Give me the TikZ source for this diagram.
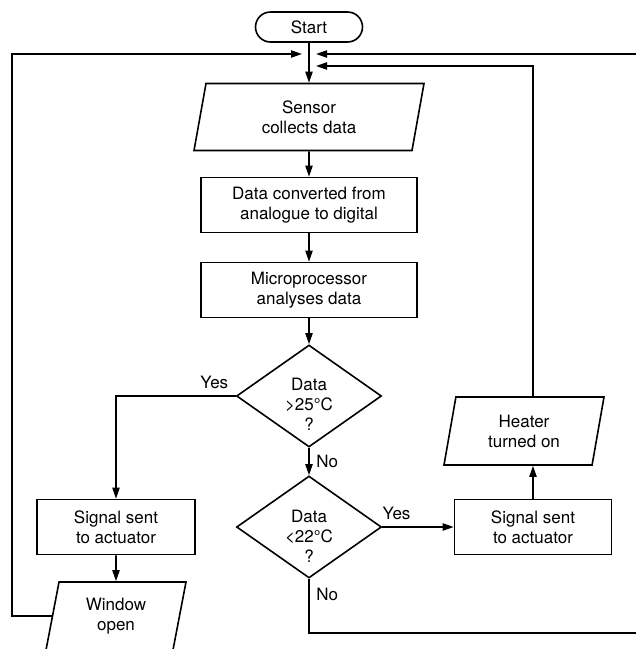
\documentclass[tikz,border=0pt]{standalone}
\usepackage{fontspec}
\setmainfont{TeX Gyre Heros}
\usetikzlibrary{shapes.geometric,arrows.meta}
\begin{document}
\begin{tikzpicture}[x=0.5pt,y=-0.5pt,
  >={Triangle[length=5.5pt,width=3.6pt]},
  line width=0.8pt,
  every node/.style={font=\fontsize{8.5}{10}\selectfont},
  box/.style={draw, rectangle, align=center, minimum width=108pt, minimum height=27.5pt, inner sep=1pt},
  io/.style={draw, trapezium, trapezium left angle=72, trapezium right angle=108,
    trapezium stretches body, align=center, inner sep=1pt},
  decision/.style={draw, diamond, minimum width=72.5pt, minimum height=51pt, inner sep=0pt},
  terminal/.style={draw, rectangle, rounded corners=7.5pt, minimum width=53.5pt, minimum height=15pt}]
\useasboundingbox (0,0) rectangle (636,649);
\clip (0,0) rectangle (636,649);
% steps
\node[terminal] (start) at (309,27) {Start};
\node[io, minimum width=115pt, minimum height=33.5pt] (sensor) at (309,117) {Sensor\\collects data};
\node[box] (convert) at (309,205) {Data converted from\\analogue to digital};
\node[box] (micro) at (309,290) {Microprocessor\\analyses data};
\node[decision, label={[align=center, yshift=-4pt]center:{Data\\>25°C\\?}}] (high) at (309,396) {};
\node[decision, label={[align=center, yshift=-4.5pt]center:{Data\\<22°C\\?}}] (low) at (309,527) {};
\node[box, minimum width=79pt] (signalL) at (116,527) {Signal sent\\to actuator};
\node[io, minimum width=70pt, minimum height=34pt] (window) at (116,616) {Window\\open};
\node[box, minimum width=78.5pt] (signalR) at (533,527) {Signal sent\\to actuator};
\node[io, minimum width=80pt, minimum height=34pt] (heater) at (524,431) {Heater\\turned on};
% loop ends
\coordinate (inL) at (302,54);
\coordinate (inR) at (316,54);
\coordinate (inH) at (316,66);
\coordinate (edgeL) at (12,54);
\coordinate (edgeR) at (642,54);
\coordinate (bottomR) at (642,633);
% arrows
\draw[->] (start) -- (sensor);
\draw[->] (sensor) -- (convert);
\draw[->] (convert) -- (micro);
\draw[->] (micro) -- (high);
\draw[->] (high) -- node[right]{No} (low);
\draw[->] (high.west) node[above left]{Yes} -| (signalL);
\draw[->] (signalL) -- (window);
\draw[->] (low.east) -- node[above, pos=0.2]{Yes} (signalR.west);
\draw[->] (signalR) -- (signalR |- heater.south);
% feedback loops
\draw[->] (window.west) -| (edgeL) -- (inL);
\draw[->] (low.south) |- node[right, pos=0.14]{No} (bottomR) -- (edgeR) -- (inR);
\draw[->] (heater.north -| signalR) |- (inH);
\end{tikzpicture}
\end{document}
